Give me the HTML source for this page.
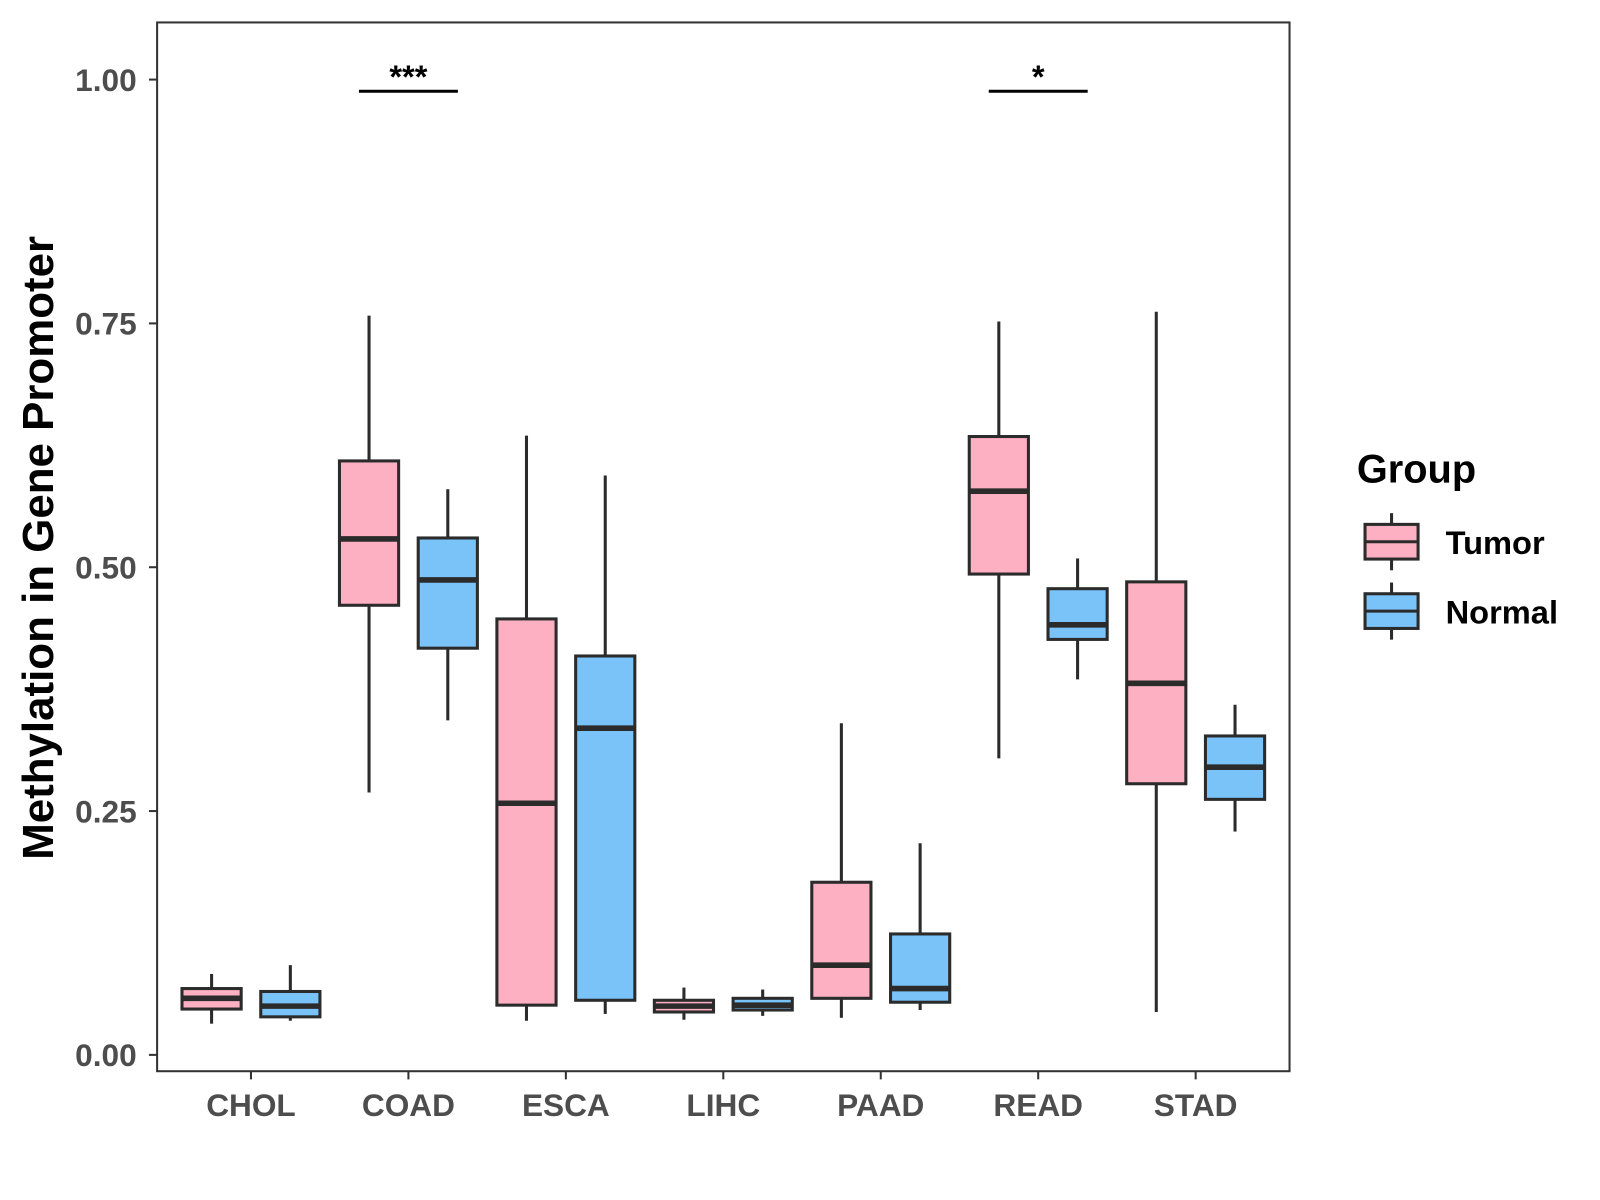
<!DOCTYPE html>
<html><head><meta charset="utf-8"><style>
html,body{margin:0;padding:0;background:#fff;}
svg{display:block;font-family:"Liberation Sans",Arial,sans-serif;}
</style></head><body>
<svg id="chart" width="1600" height="1200" viewBox="0 0 1600 1200">
<g transform="scale(1.0202)">
<rect x="154" y="22" width="1110" height="1028" fill="#fff" stroke="#333" stroke-width="2"/>
<g id="yaxis"></g>
<g id="xaxis"></g>
<g id="boxes"></g>
<g id="sig"></g>
<text transform="translate(52,537) rotate(-90)" text-anchor="middle" font-size="43" font-weight="bold" fill="#000">Methylation in Gene Promoter</text>
<g>
<text x="1330" y="473" font-size="39" font-weight="bold" fill="#000">Group</text>
<g>
<line x1="1364" y1="503" x2="1364" y2="559" stroke="#2b2b2b" stroke-width="3"/>
<rect x="1338" y="514" width="52" height="34" fill="#fdb0c2" stroke="#2b2b2b" stroke-width="3"/>
<line x1="1338" y1="531" x2="1390" y2="531" stroke="#2b2b2b" stroke-width="3"/>
<text x="1417" y="543" font-size="32" font-weight="bold" fill="#000">Tumor</text></g>
<g>
<line x1="1364" y1="571" x2="1364" y2="627" stroke="#2b2b2b" stroke-width="3"/>
<rect x="1338" y="582" width="52" height="34" fill="#7ac3f8" stroke="#2b2b2b" stroke-width="3"/>
<line x1="1338" y1="599" x2="1390" y2="599" stroke="#2b2b2b" stroke-width="3"/>
<text x="1417" y="611" font-size="32" font-weight="bold" fill="#000">Normal</text></g>
</g>
</g>
</svg>
<script>
const categories=["CHOL","COAD","ESCA","LIHC","PAAD","READ","STAD"];
const tumorMin=[0.032,0.269,0.035,0.036,0.038,0.304,0.044];
const tumorQ1=[0.047,0.461,0.051,0.044,0.058,0.493,0.278];
const tumorMed=[0.058,0.529,0.258,0.050,0.092,0.578,0.381];
const tumorQ3=[0.068,0.609,0.447,0.056,0.177,0.634,0.485];
const tumorMax=[0.083,0.758,0.635,0.069,0.340,0.752,0.762];
const normalMin=[0.035,0.343,0.042,0.040,0.046,0.385,0.229];
const normalQ1=[0.039,0.417,0.056,0.046,0.054,0.426,0.262];
const normalMed=[0.050,0.487,0.335,0.051,0.068,0.441,0.295];
const normalQ3=[0.065,0.530,0.409,0.058,0.124,0.478,0.327];
const normalMax=[0.092,0.580,0.594,0.067,0.217,0.509,0.359];
const yTicks=[0,0.25,0.5,0.75,1.0];
const yTickLabels=["0.00","0.25","0.50","0.75","1.00"];
const sigCategories=["COAD","READ"];
const sigLabels=["***","*"];
const sigLevel=[0.988];

const NS="http://www.w3.org/2000/svg";
function y(v){return 1034-v*956;}
function x(i){return 246+i*154.33;}
function mk(tag,attrs,parent){const e=document.createElementNS(NS,tag);for(const k in attrs)e.setAttribute(k,attrs[k]);parent.appendChild(e);return e;}
const ya=document.getElementById('yaxis'),xa=document.getElementById('xaxis'),bx=document.getElementById('boxes'),sg=document.getElementById('sig');
yTicks.forEach((t,i)=>{
  const l=mk('line',{x1:146,x2:154,y1:y(t),y2:y(t),stroke:'#333','stroke-width':2},ya);
  
  
  const tx=mk('text',{x:134,y:y(t)+11,'text-anchor':'end','font-size':31,'font-weight':'bold',fill:'#4d4d4d'},ya);
  tx.textContent=yTickLabels[i];
  
  
});
categories.forEach((c,i)=>{
  const l=mk('line',{x1:x(i),x2:x(i),y1:1050,y2:1058,stroke:'#333','stroke-width':2},xa);
  
  
  const tx=mk('text',{x:x(i),y:1094,'text-anchor':'middle','font-size':31,'font-weight':'bold',fill:'#4d4d4d'},xa);
  tx.textContent=c;
  
  
});
function box(cx,mn,q1,md,q3,mx,fill,name){
  const g=mk('g',{},bx);
  
  
  mk('line',{x1:cx,x2:cx,y1:y(mx),y2:y(q3),stroke:'#2b2b2b','stroke-width':3},g);
  mk('line',{x1:cx,x2:cx,y1:y(q1),y2:y(mn),stroke:'#2b2b2b','stroke-width':3},g);
  mk('rect',{x:cx-29,y:y(q3),width:58,height:y(q1)-y(q3),fill:fill,stroke:'#2b2b2b','stroke-width':3},g);
  mk('line',{x1:cx-29,x2:cx+29,y1:y(md),y2:y(md),stroke:'#2b2b2b','stroke-width':5.5},g);
}
categories.forEach((c,i)=>{
  box(x(i)-38.6,tumorMin[i],tumorQ1[i],tumorMed[i],tumorQ3[i],tumorMax[i],'#fdb0c2','box-tumor-'+c.toLowerCase());
  box(x(i)+38.6,normalMin[i],normalQ1[i],normalMed[i],normalQ3[i],normalMax[i],'#7ac3f8','box-normal-'+c.toLowerCase());
});
sigCategories.forEach((c,k)=>{
  const i=categories.indexOf(c);
  const l=mk('line',{x1:x(i)-48.5,x2:x(i)+48.5,y1:y(sigLevel[0]),y2:y(sigLevel[0]),stroke:'#000','stroke-width':3},sg);
  
  
  const t=mk('text',{x:x(i),y:y(sigLevel[0])-3,'text-anchor':'middle','font-size':32,'font-weight':'bold',fill:'#000'},sg);
  t.textContent=sigLabels[k];
  
  
});
</script>
</body></html>
